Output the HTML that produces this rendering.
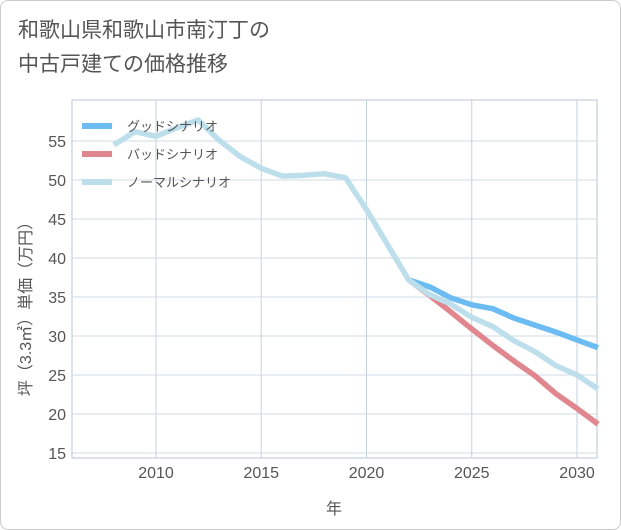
<!DOCTYPE html>
<html><head><meta charset="utf-8"><style>
body{margin:0;background:#fff;font-family:"Liberation Sans","Noto Sans CJK JP",sans-serif;}
#card{position:absolute;left:0;top:0;width:619px;height:528px;border:1px solid #ccc;border-radius:8px;}
#title{position:absolute;left:18px;top:14px;font-size:21px;line-height:34px;color:#555;}
</style></head><body>
<div id="card"></div>
<div id="title">和歌山県和歌山市南汀丁の<br>中古戸建ての価格推移</div>
<svg id="chart" width="621" height="530" style="position:absolute;left:0;top:0"></svg>
<script>
const years=[2008,2009,2010,2011,2012,2013,2014,2015,2016,2017,2018,2019,2020,2021,2022,2023,2024,2025,2026,2027,2028,2029,2030,2031];
const normal=[54.5,56.2,55.6,56.7,57.7,55.1,53,51.5,50.5,50.6,50.8,50.3,46.2,41.7,37.2,35.3,34.1,32.4,31.2,29.4,28,26.2,25,23.2];
const goodYears=[2022,2023,2024,2025,2026,2027,2028,2029,2030,2031];
const good=[37.2,36.3,34.9,34,33.5,32.3,31.4,30.5,29.5,28.5];
const bad=[37.2,35.2,33.1,30.9,28.8,26.8,24.9,22.6,20.7,18.7];
const xTicks=[2010,2015,2020,2025,2030];
const yTicks=[15,20,25,30,35,40,45,50,55];
const NS="http://www.w3.org/2000/svg",svg=document.getElementById('chart');
const X0=72,X1=597,Y0=100,Y1=458;
const x=v=>156+(v-2010)*21.05, y=v=>453-(v-15)*7.8;
function el(t,a,p){const e=document.createElementNS(NS,t);for(const k in a)e.setAttribute(k,a[k]);(p||svg).appendChild(e);return e;}
const bg=el('rect',{x:X0,y:Y0,width:X1-X0,height:Y1-Y0,fill:'#fff',stroke:'#b8c4d0'});


xTicks.forEach(v=>{const g=el('line',{x1:x(v),x2:x(v),y1:Y0,y2:Y1,stroke:'#c4d2e0'});


const t=el('text',{x:x(v),y:478,'text-anchor':'middle','font-size':16,fill:'#555'});t.textContent=v;

});
yTicks.forEach(v=>{const g=el('line',{x1:X0,x2:X1,y1:y(v),y2:y(v),stroke:'#d0dbe6'});


const t=el('text',{x:66,y:y(v)+6,'text-anchor':'end','font-size':16,fill:'#555'});t.textContent=v;

});
const xt=el('text',{x:334,y:514,'text-anchor':'middle','font-size':16,fill:'#555'});xt.textContent='年';


const yt=el('text',{x:0,y:0,'text-anchor':'middle','font-size':16,fill:'#555',transform:'translate(31,305) rotate(-90)'});yt.textContent='坪（3.3㎡）単価（万円）';


function line(xs,vs,c,n){const p=el('polyline',{points:xs.map((v,i)=>x(v)+','+y(vs[i])).join(' '),fill:'none',stroke:c,'stroke-width':5.5,'stroke-linejoin':'round'});

}
line(goodYears,bad,'#e0868e','bad-scenario-line');
line(goodYears,good,'#6bbcf2','good-scenario-line');
line(years,normal,'#bddfec','normal-scenario-line');
const leg=[['グッドシナリオ','#6bbcf2'],['バッドシナリオ','#e0868e'],['ノーマルシナリオ','#bddfec']];
leg.forEach((l,i)=>{const yy=126+i*28;
const s=el('line',{x1:82,x2:112,y1:yy,y2:yy,stroke:l[1],'stroke-width':6});


const t=el('text',{x:127,y:yy+5,'font-size':13,fill:'#555'});t.textContent=l[0];

});
</script>
</body></html>
